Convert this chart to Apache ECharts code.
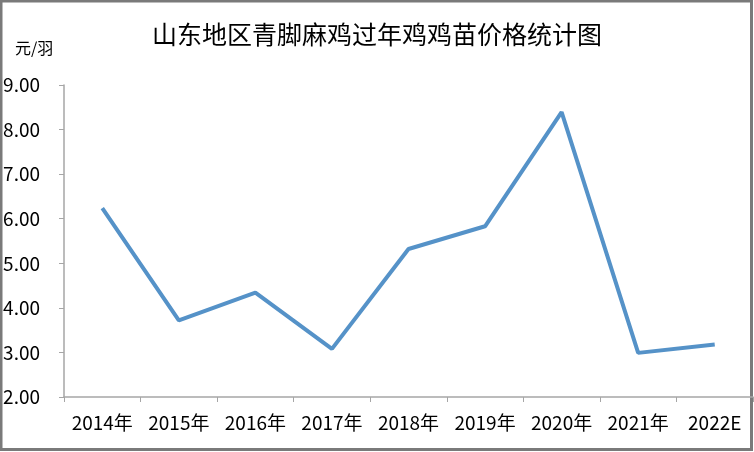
<!DOCTYPE html>
<html>
<head>
<meta charset="utf-8">
<script src="https://cdn.jsdelivr.net/npm/echarts@6/dist/echarts.min.js"></script>
<style>
html,body{margin:0;padding:0;background:#fff;}
#c{width:754px;height:452px;}
</style>
</head>
<body>
<div id="c"></div>
<script>
const categories = ['2014年','2015年','2016年','2017年','2018年','2019年','2020年','2021年','2022E'];
const prices = [6.24, 3.72, 4.34, 3.08, 5.32, 5.83, 8.39, 2.99, 3.18];
const yTicks = {min: 2, max: 9, interval: 1};
const titleText = '山东地区青脚麻鸡过年鸡鸡苗价格统计图';
const unitText = '元/羽';

const chart = echarts.init(document.getElementById('c'));
chart.setOption({
  backgroundColor: '#fff',
  animation: false,
  title: {
    text: titleText,
    left: 'center',
    top: 17,
    textStyle: {fontFamily: 'Noto Sans CJK SC', fontSize: 25, fontWeight: 'normal', color: '#000'}
  },
  graphic: [
    {type: 'rect', shape: {x: 1, y: 1, width: 750.5, height: 448.5}, style: {fill: 'none', stroke: '#7a7a7a', lineWidth: 3}, silent: true},
    {type: 'text', left: 15, top: 40, style: {text: unitText, font: '16px "Noto Sans CJK SC"', fill: '#000'}}
  ],
  grid: {left: 64, right: 1, top: 85, bottom: 55, containLabel: false},
  xAxis: {
    type: 'category',
    data: categories,
    boundaryGap: true,
    axisLine: {lineStyle: {color: '#a6a6a6', width: 1.5}},
    axisTick: {show: true, length: 5, lineStyle: {color: '#a6a6a6'}},
    axisLabel: {color: '#000', fontSize: 19, fontFamily: 'Noto Sans CJK SC', margin: 16, interval: 0}
  },
  yAxis: {
    type: 'value',
    min: yTicks.min, max: yTicks.max, interval: yTicks.interval,
    axisLine: {show: true, lineStyle: {color: '#a6a6a6', width: 1.5}},
    axisTick: {show: true, length: 5, lineStyle: {color: '#a6a6a6'}},
    splitLine: {show: false},
    axisLabel: {color: '#000', fontSize: 19, fontFamily: 'Noto Sans CJK SC', margin: 24, formatter: v => v.toFixed(2)}
  },
  series: [{
    type: 'line',
    data: prices,
    symbol: 'none',
    lineStyle: {color: '#5592c8', width: 4},
    itemStyle: {color: '#5592c8'}
  }]
});
</script>
</body>
</html>
